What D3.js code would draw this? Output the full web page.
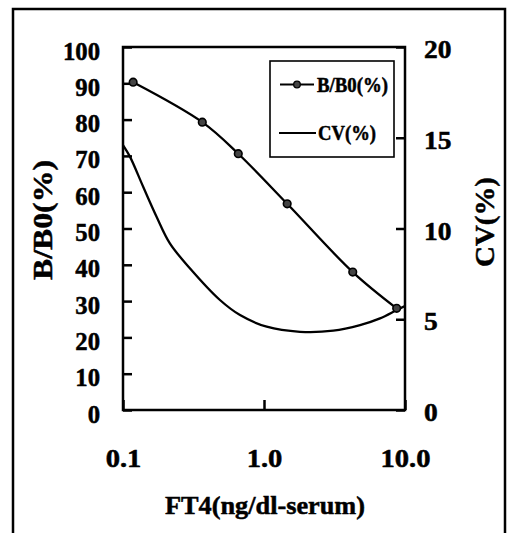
<!DOCTYPE html>
<html>
<head>
<meta charset="utf-8">
<script src="https://cdn.jsdelivr.net/npm/d3@7/dist/d3.min.js"></script>
<style>
html,body{margin:0;padding:0;background:#fff;}
svg{display:block;}
svg text{font-family:"Liberation Serif","Tinos","Times New Roman",Times,"DejaVu Serif",serif !important;font-weight:bold;fill:#000;stroke:#000;stroke-width:0.5px;}
</style>
</head>
<body>
<svg id="chart" width="507" height="533"></svg>
<script>
// ---- data ----
const bbX = [0.118, 0.365, 0.657, 1.46, 4.26, 8.73];
const bbY = [90.3, 79.3, 70.6, 56.8, 38.0, 28.0];
const cvX = [0.1, 0.112, 0.139, 0.173, 0.215, 0.298, 0.487, 0.676, 1.045, 1.80, 3.10, 4.80, 6.65, 8.74, 10];
const cvY = [14.6, 13.96, 12.3, 10.65, 9.18, 7.81, 6.06, 5.23, 4.59, 4.31, 4.37, 4.68, 5.05, 5.51, 5.73];
const xTicks = [0.1, 1, 10];
const xTickLabels = ["0.1", "1.0", "10.0"];
const leftTicks = [0, 10, 20, 30, 40, 50, 60, 70, 80, 90, 100];
const rightTicks = [0, 5, 10, 15, 20];
const seriesNames = ["B/B0(%)", "CV(%)"];
const xTitle = "FT4(ng/dl-serum)";
const leftTitle = "B/B0(%)";
const rightTitle = "CV(%)";

// ---- layout ----
const FONT = '"Liberation Serif","Tinos","Times New Roman",Times,"DejaVu Serif",serif';
const svg = d3.select("#chart");
const L = 123, R = 405, T = 47, B = 410;

const x = d3.scaleLog().domain([0.1, 10]).range([L, R]);
const yL = d3.scaleLinear().domain([0, 100]).range([B, T]);
const yR = d3.scaleLinear().domain([0, 20]).range([B, T]);

function fitWidth(sel, w) {
  sel.each(function (d, i) {
    const target = typeof w === "function" ? w(this.getComputedTextLength(), i) : w;
    d3.select(this).attr("textLength", target).attr("lengthAdjust", "spacingAndGlyphs");
  });
}

// outer border (left, top, right)
svg.append("path")
  .attr("d", "M13,533 L13,9 L505,9 L505,533")
  .attr("fill", "none").attr("stroke", "#000").attr("stroke-width", 2.5);

// left axis
const gL = svg.append("g").attr("transform", `translate(${L},0)`)
  .call(d3.axisLeft(yL).tickValues(leftTicks).tickSizeInner(-9).tickSizeOuter(0).tickPadding(23).tickFormat(d3.format("d")));
gL.attr("font-family", FONT);
gL.select(".domain").remove();
gL.selectAll("line").attr("stroke", "#000").attr("stroke-width", 2.5);
gL.selectAll("text").attr("dy", null).attr("y", 12).style("font-size", "25.5px");
fitWidth(gL.selectAll("text"), n => n * 0.97);

// right axis
const gR = svg.append("g").attr("transform", `translate(${R},0)`)
  .call(d3.axisRight(yR).tickValues(rightTicks).tickSizeInner(-9).tickSizeOuter(0).tickPadding(19).tickFormat(d3.format("d")));
gR.attr("font-family", FONT);
gR.select(".domain").remove();
gR.selectAll("line").attr("stroke", "#000").attr("stroke-width", 2.5);
gR.selectAll("text").attr("dy", null).attr("y", 10.5).style("font-size", "25px");
fitWidth(gR.selectAll("text"), n => n * 1.1);

// bottom axis
const gB = svg.append("g").attr("transform", `translate(0,${B})`)
  .call(d3.axisBottom(x).tickValues(xTicks).tickSizeInner(-10).tickSizeOuter(0).tickPadding(57).tickFormat((d, i) => xTickLabels[i]));
gB.attr("font-family", FONT);
gB.select(".domain").remove();
gB.selectAll("line").attr("stroke", "#000").attr("stroke-width", 2.5);
gB.selectAll("text").attr("dy", null).attr("y", 57).style("font-size", "26px");
fitWidth(gB.selectAll("text"), n => n * 1.1);

// plot frame
svg.append("rect").attr("x", L).attr("y", T).attr("width", R - L).attr("height", B - T)
  .attr("fill", "none").attr("stroke", "#000").attr("stroke-width", 2.5);

// CV curve
const cvData = cvX.map((v, i) => [v, cvY[i]]);
svg.append("path").datum(cvData)
  .attr("fill", "none").attr("stroke", "#000").attr("stroke-width", 2.3)
  .attr("d", d3.line().x(d => x(d[0])).y(d => yR(d[1])).curve(d3.curveCatmullRom.alpha(0.5)));

// B/B0 curve
const bbData = bbX.map((v, i) => [v, bbY[i]]);
svg.append("path").datum(bbData)
  .attr("fill", "none").attr("stroke", "#000").attr("stroke-width", 2.3)
  .attr("d", d3.line().x(d => x(d[0])).y(d => yL(d[1])).curve(d3.curveCatmullRom.alpha(0.5)));
svg.selectAll("circle.pt").data(bbData).enter().append("circle").attr("class", "pt")
  .attr("cx", d => x(d[0])).attr("cy", d => yL(d[1])).attr("r", 3.8)
  .attr("fill", "#444").attr("stroke", "#000").attr("stroke-width", 1.6);

// legend
const lg = svg.append("g").attr("font-family", FONT);
lg.append("rect").attr("x", 270).attr("y", 61).attr("width", 124).attr("height", 96)
  .attr("fill", "#fff").attr("stroke", "#000").attr("stroke-width", 1.6);
lg.append("line").attr("x1", 280).attr("x2", 314).attr("y1", 84.5).attr("y2", 84.5)
  .attr("stroke", "#000").attr("stroke-width", 2);
lg.append("circle").attr("cx", 297).attr("cy", 84.5).attr("r", 3.3)
  .attr("fill", "#444").attr("stroke", "#000").attr("stroke-width", 1.3);
const t1 = lg.append("text").attr("x", 317).attr("y", 92).style("font-size", "20px").text(seriesNames[0]);
lg.append("line").attr("x1", 279).attr("x2", 316).attr("y1", 133).attr("y2", 133)
  .attr("stroke", "#000").attr("stroke-width", 2);
const t2 = lg.append("text").attr("x", 318).attr("y", 140).style("font-size", "20px").text(seriesNames[1]);
fitWidth(t1, 71);
fitWidth(t2, 58);

// axis titles
const xt = svg.append("text").attr("font-family", FONT).attr("x", 265).attr("y", 514).attr("text-anchor", "middle")
  .style("font-size", "26px").text(xTitle);
fitWidth(xt, 200);

const lt = svg.append("text").attr("font-family", FONT).attr("transform", "translate(52,220) rotate(-90)").attr("text-anchor", "middle")
  .style("font-size", "28px").text(leftTitle);
fitWidth(lt, 120);

const rt = svg.append("text").attr("font-family", FONT).attr("transform", "translate(494,222) rotate(-90)").attr("text-anchor", "middle")
  .style("font-size", "28px").text(rightTitle);
fitWidth(rt, 90);
</script>
</body>
</html>
